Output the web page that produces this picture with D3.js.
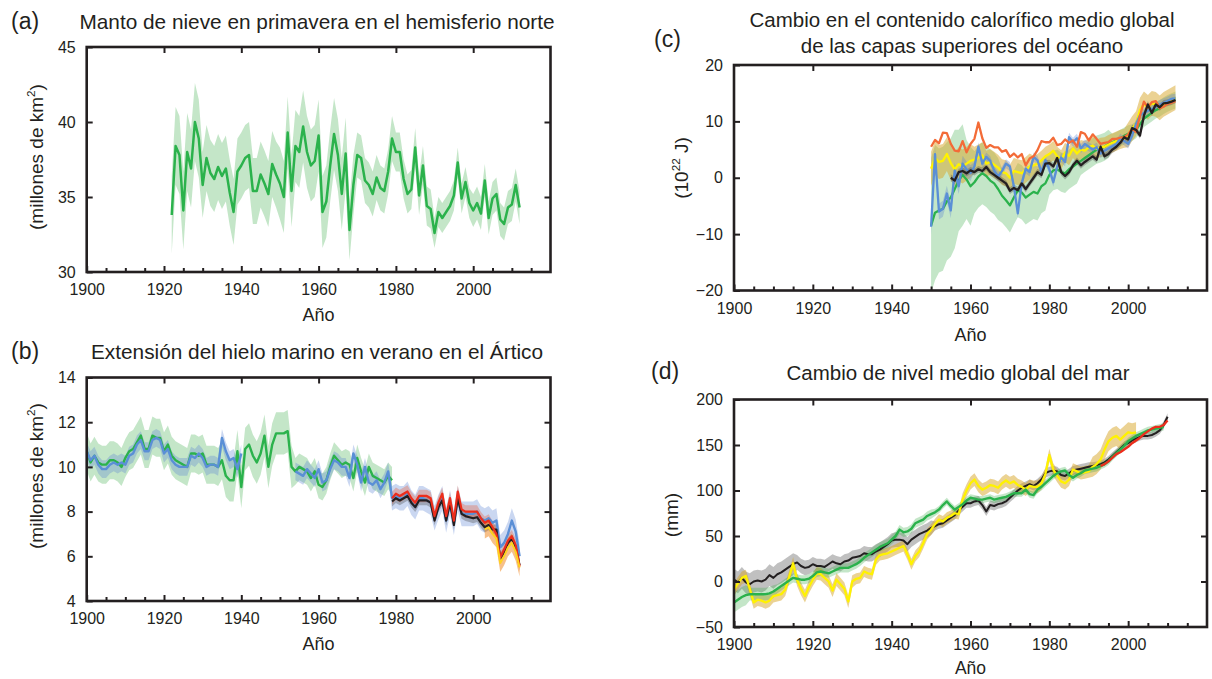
<!DOCTYPE html>
<html><head><meta charset="utf-8">
<script src="https://cdn.jsdelivr.net/npm/d3@7"></script>
<style>
body{margin:0;background:#fff;}
svg text{font-family:"Liberation Sans",Arial,Helvetica,sans-serif;fill:#231f20;}
</style></head><body>
<svg id="chart" width="1212" height="679"></svg>
<script>
// ---------------- DATA ----------------
const xTickYears = [1900, 1920, 1940, 1960, 1980, 2000];
const minorTickYears = [1905,1910,1915,1925,1930,1935,1945,1950,1955,1965,1970,1975,1985,1990,1995,2005,2010,2015];
const yTicksA = [30, 35, 40, 45];
const yTicksB = [4, 6, 8, 10, 12, 14];
const yTicksC = [-20, -10, 0, 10, 20];
const yTicksD = [-50, 0, 50, 100, 150, 200];

// (a) Northern Hemisphere spring snow cover, 1922-2012
const snowStart = 1922;
const snowValues = [33.8,38.4,37.8,34.1,38.0,36.9,40.0,38.9,35.8,37.6,
 36.6,36.2,37.0,36.4,36.9,35.3,34.0,36.7,37.1,37.6,
 37.8,35.4,35.4,36.5,35.9,35.2,37.2,36.5,35.9,35.0,
 39.3,35.4,38.4,38.0,39.7,38.0,37.1,37.4,39.1,34.0,
 34.7,37.1,39.2,37.8,35.2,37.9,32.8,35.8,37.8,37.6,
 36.1,35.8,35.2,36.3,35.6,35.4,36.7,38.9,38.0,38.0,
 36.2,35.2,35.5,38.3,35.1,37.1,34.4,34.2,32.6,34.0,
 33.6,34.0,34.4,35.1,37.3,34.9,36.0,34.6,34.1,34.6,
 33.9,36.1,33.6,34.9,35.2,33.5,33.2,34.3,34.5,35.8,34.3];
const snowUnc = [[1922,1929,2.6],[1930,1949,2.2],[1950,1967,2.4],[1968,1969,2.0],[1970,1979,1.5],[1980,1989,1.3],[1990,1999,1.0],[2000,2012,1.1]];

// (b) Arctic summer sea ice extent
const iceGreenStart = 1900;
const iceGreenValues = [10.7,10.2,10.5,10.2,10.1,10.1,10.3,10.3,10.2,10.0,
 10.4,10.7,10.8,11.1,11.4,10.8,10.8,11.4,11.3,11.3,
 10.7,11.0,10.5,10.3,10.2,10.1,10.0,10.6,10.6,10.5,
 10.6,10.1,10.1,10.1,10.0,10.3,9.6,9.4,9.4,10.7,
 9.1,10.8,11.0,10.5,10.2,10.6,11.4,10.0,11.0,11.5,
 11.5,11.5,11.6,10.0,9.8,10.0,9.9,9.8,9.5,9.8,
 9.2,9.1,9.4,10.0,10.5,10.3,10.1,10.2,10.1,9.5,
 10.4,9.8,9.3,10.0,9.6,9.5,9.4,9.3,9.6,9.4];
const iceGreenUnc = [[1900,1935,0.85],[1936,1953,0.95],[1954,1979,0.6]];

const iceBlueStart = 1900;
const iceBlueValues = [10.7,10.3,10.5,10.1,9.9,9.9,10.1,10.2,10.1,10.2,
 10.1,10.5,10.6,11.0,11.2,10.7,10.7,11.2,11.3,11.2,
 10.6,10.8,10.3,10.1,10.0,10.0,10.0,10.5,10.4,10.6,
 10.4,10.0,10.1,10.1,10.0,11.3,10.7,10.3,10.4,9.9,
 10.6,null,null,null,null,null,null,null,null,null,
 null,null,null,null,9.8,9.7,9.6,9.9,9.7,9.5,
 9.9,9.3,9.4,9.9,10.3,10.2,10.0,10.0,9.5,10.6,
 10.1,9.3,10.0,9.3,9.2,9.4,9.0,9.3,9.8,8.6,
 8.7,8.6,8.6,8.8,8.4,8.2,8.6,8.6,8.5,8.4,
 7.7,8.2,8.6,7.6,8.4,7.5,8.6,7.9,7.9,7.9,
 7.9,8.0,7.7,7.6,7.7,7.5,7.6,6.4,6.6,7.0,
 7.6,7.1,6.0];
const iceBlueUnc = [[1900,1940,0.4],[1954,1978,0.4],[1979,2012,0.55]];

const iceBlackStart = 1979;
const iceBlackValues = [8.45,8.6,8.5,8.6,8.7,8.4,8.2,8.5,8.5,8.5,
 8.4,7.6,8.2,8.5,7.6,8.4,7.4,8.6,7.9,7.8,
 7.75,7.7,7.75,7.5,7.3,7.4,7.2,7.2,5.9,6.2,
 6.6,6.8,6.4,5.6];
const iceBlackUnc = [[1979,2012,0.22]];

const iceRedStart = 1979;
const iceRedValues = [8.6,8.8,8.7,8.8,8.9,8.6,8.4,8.7,8.7,8.7,
 8.6,7.8,8.4,8.8,7.8,8.6,7.6,8.9,8.1,8.0,
 8.0,8.0,8.0,7.7,7.5,7.6,7.3,7.0,5.95,6.3,
 6.7,6.9,6.5,5.55];
const iceRedUnc = [[1979,2012,0.28]];

const iceOrangeStart = 2003;
const iceOrangeValues = [7.2,7.3,7.0,6.8,5.7,6.0,6.4,6.6,6.2,5.5];
const iceOrangeUnc = [[2003,2012,0.4]];

// (c) Global mean upper ocean heat content change (10^22 J), 1950-2012
const ohcStart = 1950;
const ohcOrangeValues = [5.5,6.7,6.1,8.0,7.9,6.0,4.8,4.7,6.5,4.5,
 6.0,6.9,9.8,7.0,5.3,5.8,5.4,5.4,4.6,4.9,
 3.7,4.3,3.6,4.2,2.2,3.4,3.8,4.9,6.5,6.3,
 6.3,7.1,5.8,6.0,6.8,6.2,6.6,5.5,8.1,7.8,
 6.6,7.7,6.9,6.0,6.2,6.3,6.9,6.9,7.1,7.2,
 7.7,8.7,8.1,11.0,13.5,12.5,13.4,13.6,12.3,12.6,
 13.1,13.3,13.6];
const ohcYellowValues = [1.6,3.5,2.8,3.0,4.2,2.6,1.5,2.4,2.0,2.5,
 3.0,3.2,3.6,4.0,2.5,2.8,2.3,1.8,1.0,0.8,
 0.0,1.2,1.0,0.8,1.4,2.0,2.2,2.5,3.1,3.8,
 4.2,4.8,3.8,3.2,4.5,3.9,5.2,4.3,5.0,4.8,
 5.4,5.7,5.1,5.4,5.5,5.9,6.2,6.5,6.8,7.0,
 7.6,8.7,9.6,12.0,13.1,12.5,13.2,13.0,12.4,13.0,
 13.4,13.8,14.2];
const ohcYellowUnc = [[1950,1960,3.0],[1961,1975,2.3],[1976,1999,1.7],[2000,2012,2.2]];
const ohcBlueValues = [-8.7,4.2,-6.0,-5.5,-2.8,-5.8,1.3,-1.5,2.5,1.5,
 0.8,2.0,5.5,2.5,3.7,3.0,1.3,0.2,1.2,2.5,
 2.0,-1.5,-6.3,-1.0,1.6,1.0,3.7,3.1,1.0,3.1,
 1.5,-0.8,2.0,3.6,2.8,7.2,6.3,7.0,5.2,6.0,
 5.5,5.0,5.4,4.3,4.8,5.2,5.6,6.0,7.0,6.5,
 6.0,7.5,9.6,11.1,11.5,11.9,12.2,12.5,13.0,13.3,
 13.6,14.0,14.1];
const ohcBlueUnc = [[1950,1960,1.4],[1961,2012,0.8]];
const ohcGreenValues = [-8.5,-6.2,-5.8,-5.5,-4.2,-3.5,-2.0,-0.5,0.5,-0.3,
 -1.5,-0.8,0.2,0.8,0.3,-0.5,-1.0,-2.0,-3.2,-4.0,
 -4.9,-3.5,-2.2,-2.6,-3.5,-3.0,-2.5,-2.8,-1.5,-1.0,
 0.5,1.3,1.5,1.0,0.8,1.5,2.0,2.5,3.0,3.5,
 4.0,4.5,5.0,5.2,5.5,6.0,6.3,6.6,7.0,7.4,
 7.8,8.0,8.5,9.5,10.5,11.0,11.5,12.0,12.3,12.8,
 13.2,13.5,13.8];
const ohcGreenUnc = [[1950,1951,12],[1952,1953,11],[1954,1956,10.5],[1957,1958,9],[1959,1960,7],[1961,1967,5.5],[1968,1979,4.8],[1980,1987,3.5],[1988,1995,2.5],[1996,2012,1.5]];
const ohcBlackStart = 1955;
const ohcBlackValues = [0.0,-0.5,1.0,1.2,0.8,1.3,1.0,1.5,1.2,1.9,
 1.0,0.5,0.0,-0.5,-1.0,-2.3,-1.8,-2.2,-1.0,-2.0,
 -1.0,0.0,1.0,0.5,2.5,2.6,2.0,3.5,1.0,0.3,
 1.0,2.2,3.0,2.2,2.8,3.3,3.8,3.2,5.5,3.8,
 4.2,5.0,5.5,6.2,7.2,6.8,8.8,8.5,7.5,11.0,
 13.0,11.5,13.0,12.5,13.2,13.3,13.5,13.8];
const ohcBlackUnc = [[1955,2012,0.6]];

// (d) Global mean sea level change (mm)
const slBlackStart = 1900;
const slBlackValues = [2,-1,4,-1,-3,0,1,0,2,7,
 4,8,10,13,16,19,21,17,15,16,
 19,17,17,16,19,22,20,19,22,23,
 26,27,28,31,30,30,33,35,38,41,
 45,46,46,45,41,46,49,52,54,56,
 59,61,63,64,67,70,73,78,82,86,
 86,88,89,84,77,84,83,85,86,88,
 92,96,100,103,105,107,105,108,112,119,
 121,122,121,117,116,119,122,123,124,125,
 126,127,128,129,131,134,138,142,146,150,
 152,155,157,159,160,160,161,163,166,172,181];
const slBlackUnc = [[1900,1915,12],[1916,1950,8],[1951,1990,5],[1991,2010,4]];
const slYellowStart = 1900;
const slYellowValues = [-9,-2,4,6,-8,-23,-20,-21,-23,-21,
 -16,-15,-14,-9,5,20,2,-8,-16,-6,
 2,9,8,4,0,-10,2,-3,-8,-22,
 0,3,4,11,9,8,24,29,30,31,
 33,35,37,39,30,19,28,33,42,52,
 57,63,68,66,70,72,75,74,90,100,
 108,112,105,101,103,106,105,103,108,111,
 108,110,106,104,101,105,104,104,108,118,
 139,123,116,110,108,112,123,121,119,120,
 121,126,129,134,145,154,158,160,156,160,
 164,163,164];
const slYellowUnc = [[1900,1930,7],[1931,1957,6],[1958,1990,7],[1991,2002,11]];
const slGreenStart = 1900;
const slGreenValues = [-23,-20,-17,-15,-14,-14,-14,-14,-14,-13,
 -11,-8,-5,-2,1,4,3,2,2,3,
 6,10,11,10,9,11,13,15,15,15,
 17,19,22,26,29,32,35,38,40,42,
 46,50,57,54,55,58,64,66,68,72,
 74,76,79,84,88,83,79,82,85,89,
 92,91,90,90,91,92,90,91,92,93,
 95,97,97,97,101,96,95,101,104,108,
 112,116,119,121,122,117,114,117,119,122,
 123,124,125,127,129,132,137,141,145,149,
 154,157,160,162,164,166,167,168,169,170];
const slGreenUnc = [[1900,1903,11],[1904,1910,7],[1911,1950,5],[1951,2009,4]];
const slRedStart = 1993;
const slRedValues = [127,129,132,136,140,142,145,148,152,155,158,162,165,168,170,170,172,177];

// ---------------- STYLE ----------------
const C = {
  text:'#231f20',
  green:'#2bb24c', greenBand:'rgba(60,172,72,0.30)',
  blue:'#5a8fd6', blueBand:'rgba(90,130,210,0.32)',
  red:'#ec2d1c', redBand:'rgba(232,95,60,0.35)',
  black:'#231f20', grayBand:'rgba(80,80,80,0.36)',
  orangeC:'#f36b37', yellow:'#fff200', tanBand:'rgba(215,165,40,0.50)',
  orangeBand:'rgba(240,140,40,0.55)', yellowB:'#ffd21f'
};
const svg = d3.select('#chart');

function uncAt(segs, yr){ for (const s of segs) if (yr>=s[0] && yr<=s[1]) return s[2]; return null; }
function toData(start, vals, unc){ return vals.map((v,i)=>({yr:start+i, v, u: unc? uncAt(unc,start+i):0})); }

function makePanel(cfg){
  const x = d3.scaleLinear().domain([1900,2020]).range([cfg.left,cfg.right]);
  const y = d3.scaleLinear().domain(cfg.yDomain).range([cfg.bottom,cfg.top]);
  const g = svg.append('g');
  const clipId = 'clip-'+cfg.id;
  svg.append('clipPath').attr('id',clipId).append('rect')
    .attr('x',cfg.left).attr('y',cfg.top).attr('width',cfg.right-cfg.left).attr('height',cfg.bottom-cfg.top);
  const plot = g.append('g').attr('clip-path',`url(#${clipId})`);
  return {x,y,g,plot,cfg};
}
function band(P, start, vals, unc, fill){
  const d = toData(start, vals, unc);
  P.plot.append('path').datum(d)
    .attr('d', d3.area().defined(p=>p.v!=null && p.u!=null).x(p=>P.x(p.yr)).y0(p=>P.y(p.v-p.u)).y1(p=>P.y(p.v+p.u)))
    .attr('fill', fill).attr('stroke','none');
}
function line(P, start, vals, color, w){
  const d = toData(start, vals, null);
  P.plot.append('path').datum(d)
    .attr('d', d3.line().defined(p=>p.v!=null).x(p=>P.x(p.yr)).y(p=>P.y(p.v)))
    .attr('fill','none').attr('stroke',color).attr('stroke-width',w||2.4)
    .attr('stroke-linejoin','round').attr('stroke-linecap','butt');
}
function styleAxis(sel, fs){
  sel.attr('font-size',fs).attr('font-family','"Liberation Sans",Arial,sans-serif').attr('color',C.text);
  sel.select('.domain').remove();
  sel.selectAll('.tick line').attr('stroke',C.text).attr('stroke-width',2);
}
function axes(P, yTicks){
  const {x,y,g,cfg} = P;
  styleAxis(g.append('g').attr('transform',`translate(0,${cfg.bottom})`)
    .call(d3.axisBottom(x).tickValues(xTickYears).tickFormat(d3.format('d')).tickSizeInner(-6).tickSizeOuter(0).tickPadding(12)),16);
  styleAxis(g.append('g').attr('transform',`translate(0,${cfg.bottom})`)
    .call(d3.axisBottom(x).tickValues(minorTickYears).tickFormat('').tickSizeInner(-4).tickSizeOuter(0)),16);
  styleAxis(g.append('g').attr('transform',`translate(0,${cfg.top})`)
    .call(d3.axisTop(x).tickValues(xTickYears.slice(1)).tickFormat('').tickSizeInner(-6).tickSizeOuter(0)),16);
  styleAxis(g.append('g').attr('transform',`translate(${cfg.left},0)`)
    .call(d3.axisLeft(y).tickValues(yTicks).tickFormat(d3.format('d')).tickSizeInner(-6).tickSizeOuter(0).tickPadding(11)),16);
  styleAxis(g.append('g').attr('transform',`translate(${cfg.right},0)`)
    .call(d3.axisRight(y).tickValues(yTicks.slice(1,-1)).tickFormat('').tickSizeInner(-6).tickSizeOuter(0)),16);
  g.append('rect').attr('x',cfg.left).attr('y',cfg.top).attr('width',cfg.right-cfg.left).attr('height',cfg.bottom-cfg.top)
    .attr('fill','none').attr('stroke',C.text).attr('stroke-width',2.6);
}
function txt(x,y,s,fs,anchor){
  return svg.append('text').attr('x',x).attr('y',y).attr('font-size',fs).attr('text-anchor',anchor||'start').text(s);
}
function yLabel(x,y,parts,fs){
  const t = svg.append('text').attr('transform',`translate(${x},${y}) rotate(-90)`).attr('text-anchor','middle').attr('font-size',fs);
  parts.forEach(p=>{
    const ts = t.append('tspan').text(p.t);
    if (p.sup) ts.attr('font-size',fs*0.62).attr('dy',-fs*0.42);
    if (p.after) ts.attr('dy',fs*0.42);
  });
}

// ---------------- PANEL A ----------------
const A = makePanel({id:'a',left:86.7,right:550.5,top:47,bottom:272,yDomain:[30,45]});
band(A, snowStart, snowValues, snowUnc, C.greenBand);
line(A, snowStart, snowValues, C.green, 2.5);
axes(A, yTicksA);
txt(11,29,'(a)',23);
txt(317,29,'Manto de nieve en primavera en el hemisferio norte',20.8,'middle');
txt(318.6,321,'Año',18,'middle');
yLabel(43,157,[{t:'(millones de km'},{t:'2',sup:true},{t:')',after:true}],19);

// ---------------- PANEL B ----------------
const B = makePanel({id:'b',left:86.7,right:550.5,top:377.5,bottom:601,yDomain:[4,14]});
band(B, iceGreenStart, iceGreenValues, iceGreenUnc, C.greenBand);
band(B, iceBlueStart, iceBlueValues, iceBlueUnc, C.blueBand);
band(B, iceBlackStart, iceBlackValues, iceBlackUnc, C.grayBand);
band(B, iceRedStart, iceRedValues, iceRedUnc, C.redBand);
band(B, iceOrangeStart, iceOrangeValues, iceOrangeUnc, C.orangeBand);
line(B, iceGreenStart, iceGreenValues, C.green, 2.4);
line(B, iceBlueStart, iceBlueValues, C.blue, 2.4);
line(B, iceBlackStart, iceBlackValues, C.black, 2.2);
line(B, iceRedStart, iceRedValues, C.red, 2.2);
line(B, iceOrangeStart, iceOrangeValues, C.yellowB, 2.0);
axes(B, yTicksB);
txt(11,359,'(b)',23);
txt(317,359,'Extensión del hielo marino en verano en el Ártico',20.8,'middle');
txt(318.6,650,'Año',18,'middle');
yLabel(43,476,[{t:'(millones de km'},{t:'2',sup:true},{t:')',after:true}],19);

// ---------------- PANEL C ----------------
const Cp = makePanel({id:'c',left:734,right:1207,top:65,bottom:290.5,yDomain:[-20,20]});
band(Cp, ohcStart, ohcGreenValues, ohcGreenUnc, C.greenBand);
band(Cp, ohcStart, ohcYellowValues, ohcYellowUnc, C.tanBand);
band(Cp, ohcStart, ohcBlueValues, ohcBlueUnc, C.blueBand);
band(Cp, ohcBlackStart, ohcBlackValues, ohcBlackUnc, C.grayBand);
line(Cp, ohcStart, ohcGreenValues, C.green, 2.3);
line(Cp, ohcStart, ohcYellowValues, C.yellow, 2.3);
line(Cp, ohcStart, ohcBlueValues, C.blue, 2.3);
line(Cp, ohcStart, ohcOrangeValues, C.orangeC, 2.3);
line(Cp, ohcBlackStart, ohcBlackValues, C.black, 2.3);
axes(Cp, yTicksC);
txt(654,47,'(c)',23);
txt(962,26.5,'Cambio en el contenido calorífico medio global',20.5,'middle');
txt(962,53,'de las capas superiores del océano',20.5,'middle');
txt(970.5,341,'Año',18,'middle');
yLabel(688,168,[{t:'(10'},{t:'22',sup:true},{t:' J)',after:true}],19);

// ---------------- PANEL D ----------------
const D = makePanel({id:'d',left:734,right:1207,top:399.5,bottom:627,yDomain:[-50,200]});
band(D, slBlackStart, slBlackValues, slBlackUnc, C.grayBand);
band(D, slYellowStart, slYellowValues, slYellowUnc, C.tanBand);
band(D, slGreenStart, slGreenValues, slGreenUnc, C.greenBand);
line(D, slBlackStart, slBlackValues, C.black, 2.0);
line(D, slYellowStart, slYellowValues, C.yellow, 2.3);
line(D, slGreenStart, slGreenValues, C.green, 2.4);
line(D, slRedStart, slRedValues, C.red, 2.3);
axes(D, yTicksD);
txt(651,379,'(d)',23);
txt(958,380,'Cambio de nivel medio global del mar',20.5,'middle');
txt(970.5,674,'Año',17.5,'middle');
yLabel(678,515,[{t:'(mm)'}],19);
</script>
</body></html>
